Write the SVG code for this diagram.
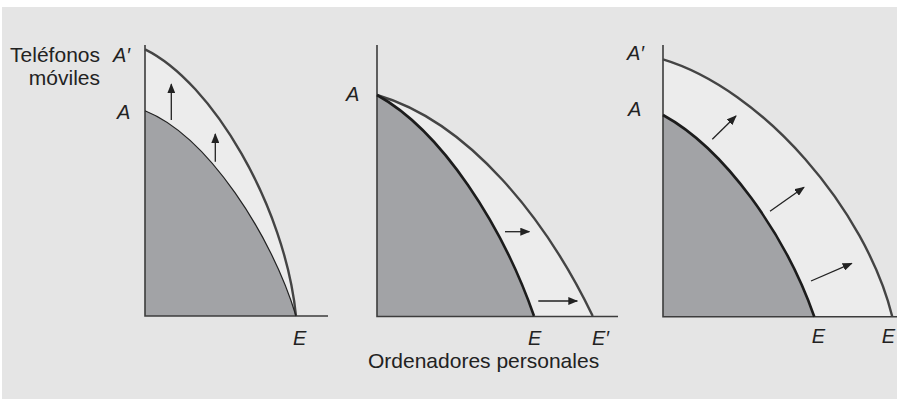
<svg xmlns="http://www.w3.org/2000/svg" width="897" height="399" viewBox="0 0 897 399">
<defs>
<style>
.lbl{font-family:"Liberation Sans",Arial,sans-serif;font-size:21px;fill:#222}
.it{font-family:"Liberation Sans",Arial,sans-serif;font-size:20px;font-style:italic;fill:#222}
.axis{fill:none;stroke:#3c3c3c;stroke-width:1.6}
.shade{fill:#a2a3a6;stroke:none}
.band{fill:#ececec;stroke:none}
.outer{fill:none;stroke:#444;stroke-width:2.4}
.inner{fill:none;stroke:#1c1c1c;stroke-width:2.6}
.thin{fill:none;stroke:#222;stroke-width:1.2}
.arr{fill:none;stroke:#222;stroke-width:1.3;marker-end:url(#ah)}
</style>
<marker id="ah" markerUnits="userSpaceOnUse" markerWidth="10" markerHeight="8" refX="9" refY="4" orient="auto">
<path d="M0,0 L10,4 L0,8 Z" fill="#222"/>
</marker>
</defs>
<rect x="0" y="0" width="897" height="399" fill="#ffffff"/>
<rect x="2" y="7" width="895" height="392" fill="#e5e5e5"/>

<g id="panel1">
<path class="band" d="M145,49.3 C212,82 285,206 296,316 C272,236 208,136 145,110.7 Z"/>
<path class="shade" d="M145,110.7 C208,136 272,236 296,316 L145,316 Z"/>
<path class="axis" d="M145,45 V316 H328"/>
<path class="outer" d="M145,49.3 C212,82 285,206 296,316"/>
<path class="thin" d="M145,110.7 C208,136 272,236 296,316"/>
<text class="lbl" x="100" y="62" text-anchor="end">Teléfonos</text>
<text class="lbl" x="100" y="85" text-anchor="end">móviles</text>
<text class="it" x="113" y="62">A′</text>
<text class="it" x="117" y="119">A</text>
<text class="it" x="293" y="345">E</text>
</g>

<g id="panel2">
<path class="band" d="M377,95 C470,122 547,221 592.7,316 L534,316 C502.5,226 442,131 377,95 Z"/>
<path class="shade" d="M377,95 C442,131 502.5,226 534,316 L377,316 Z"/>
<path class="axis" d="M377,45 V316.5 H618"/>
<path class="outer" d="M377,95 C470,122 547,221 592.7,316"/>
<path class="inner" d="M377,95 C442,131 502.5,226 534,316"/>
<text class="it" x="346" y="101">A</text>
<text class="it" x="528" y="345">E</text>
<text class="it" x="592" y="345">E′</text>
<text class="lbl" x="368" y="368">Ordenadores personales</text>
</g>

<g id="panel3">
<path class="band" d="M663,59.3 C763,89.3 866,210 892.3,316.7 L814.3,316.7 C785.6,234.7 725,149 663,115 Z"/>
<path class="shade" d="M663,115 C725,149 785.6,234.7 814.3,316.7 L663,316.7 Z"/>
<path class="axis" d="M663,45 V316.7 H897"/>
<path class="outer" d="M663,59.3 C763,89.3 866,210 892.3,316.7"/>
<path class="inner" d="M663,115 C725,149 785.6,234.7 814.3,316.7"/>
<text class="it" x="627" y="60">A′</text>
<text class="it" x="628" y="116">A</text>
<text class="it" x="811.7" y="343">E</text>
<text class="it" x="881.7" y="343">E</text>
</g>

<g id="connectors">
<line class="arr" x1="171.3" y1="120" x2="171.3" y2="84.3"/>
<line class="arr" x1="215.3" y1="161.7" x2="215.3" y2="134"/>
<line class="arr" x1="505" y1="231.7" x2="529.3" y2="231.7"/>
<line class="arr" x1="538.3" y1="301" x2="577.3" y2="301"/>
<line class="arr" x1="712.3" y1="139.3" x2="736" y2="116"/>
<line class="arr" x1="770" y1="211.3" x2="804" y2="187.3"/>
<line class="arr" x1="811" y1="281" x2="851.7" y2="263.3"/>
</g>
</svg>
